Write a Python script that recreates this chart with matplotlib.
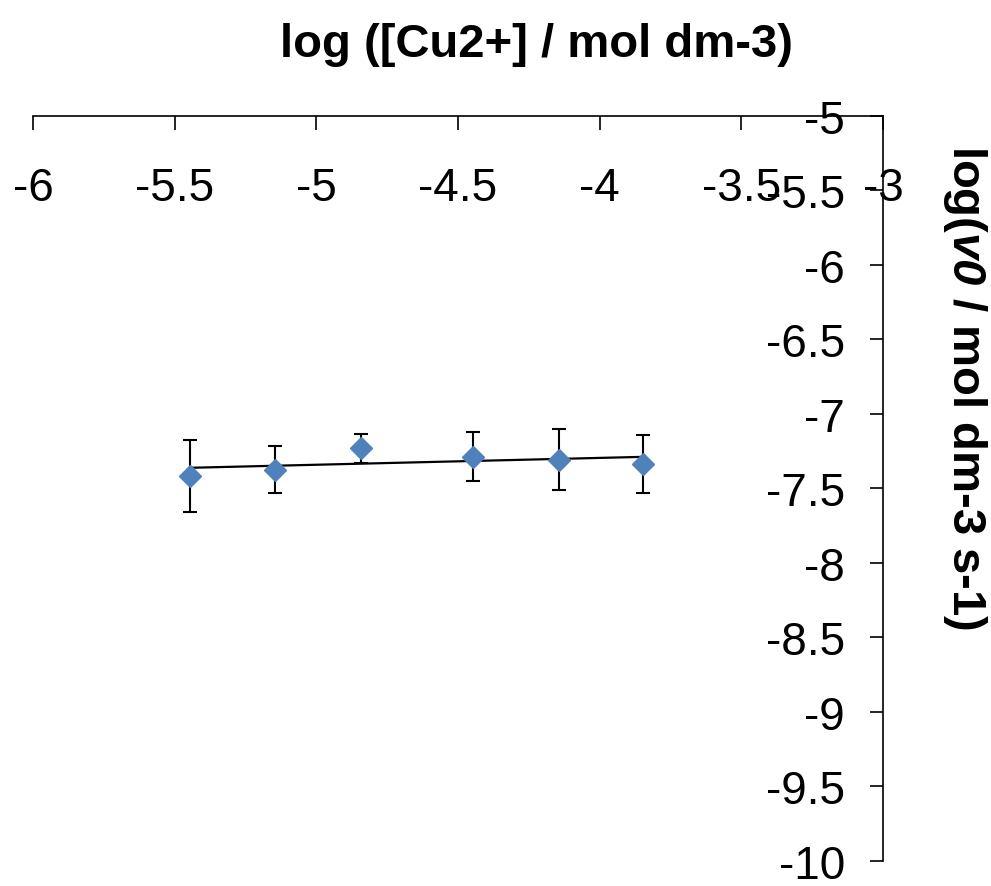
import numpy as np
import matplotlib
matplotlib.use("Agg")
import matplotlib.pyplot as plt

plt.rcParams.update({"font.family": "Liberation Sans",
                     "mathtext.fontset": "custom",
                     "mathtext.rm": "Liberation Sans:bold",
                     "mathtext.bfit": "Liberation Sans:italic:bold"})

# initial rate vs copper concentration (log-log)
log_cu = [-5.446, -5.146, -4.843, -4.446, -4.143, -3.846]
log_v0 = [-7.414, -7.374, -7.230, -7.286, -7.306, -7.336]
v0_err = [0.242, 0.158, 0.097, 0.164, 0.203, 0.196]

xticks = [-6, -5.5, -5, -4.5, -4, -3.5, -3]
yticks = [-5, -5.5, -6, -6.5, -7, -7.5, -8, -8.5, -9, -9.5, -10]

slope, icpt = np.polyfit(log_cu, log_v0, 1)
xfit = np.array([min(log_cu), max(log_cu)])

fig = plt.figure(figsize=(9.91, 8.87), dpi=100)
ax = fig.add_axes([0.0333, 0.0282, 0.8577, 0.8399])

ax.plot(xfit, slope * xfit + icpt, color="black", lw=1.6, zorder=2)
ax.errorbar(log_cu, log_v0, yerr=v0_err, fmt="none", ecolor="black",
            elinewidth=1.5, capsize=5, capthick=1.5, zorder=3)
ax.plot(log_cu, log_v0, ls="none", marker="D", ms=11, color="#4F81BD",
        mec="#4F81BD", zorder=4)

ax.set_xlim(-6, -3)
ax.set_ylim(-10, -5)

# axes cross at the top right, Excel style
ax.spines["bottom"].set_position(("data", -5))
ax.spines["left"].set_position(("data", -3))
ax.spines["top"].set_visible(False)
ax.spines["right"].set_visible(False)
for s in ("bottom", "left"):
    ax.spines[s].set_linewidth(1.2)
    ax.spines[s].set_zorder(1)

ax.set_xticks(xticks)
ax.set_xticklabels([f"{t:g}" for t in xticks])
ax.set_yticks(yticks)
ax.set_yticklabels([f"{t:g}" for t in yticks])
ax.tick_params(axis="x", direction="out", length=10, width=1.2,
               labelsize=33, pad=26)
ax.tick_params(axis="y", direction="out", length=9.5, width=1.2,
               labelsize=33, pad=18)
for lab in ax.get_xticklabels() + ax.get_yticklabels():
    lab.set_clip_on(False)

fig.text(0.541, 0.949, "log ([Cu2+] / mol dm-3)", ha="center",
         va="center", fontsize=34, fontweight="bold")
fig.text(0.974, 0.5626, r"log($\mathbfit{v0}$ / mol dm-3 s-1)",
         ha="center", va="center", rotation=-90, fontsize=34,
         fontweight="bold")

fig.savefig("out.png", dpi=100)
